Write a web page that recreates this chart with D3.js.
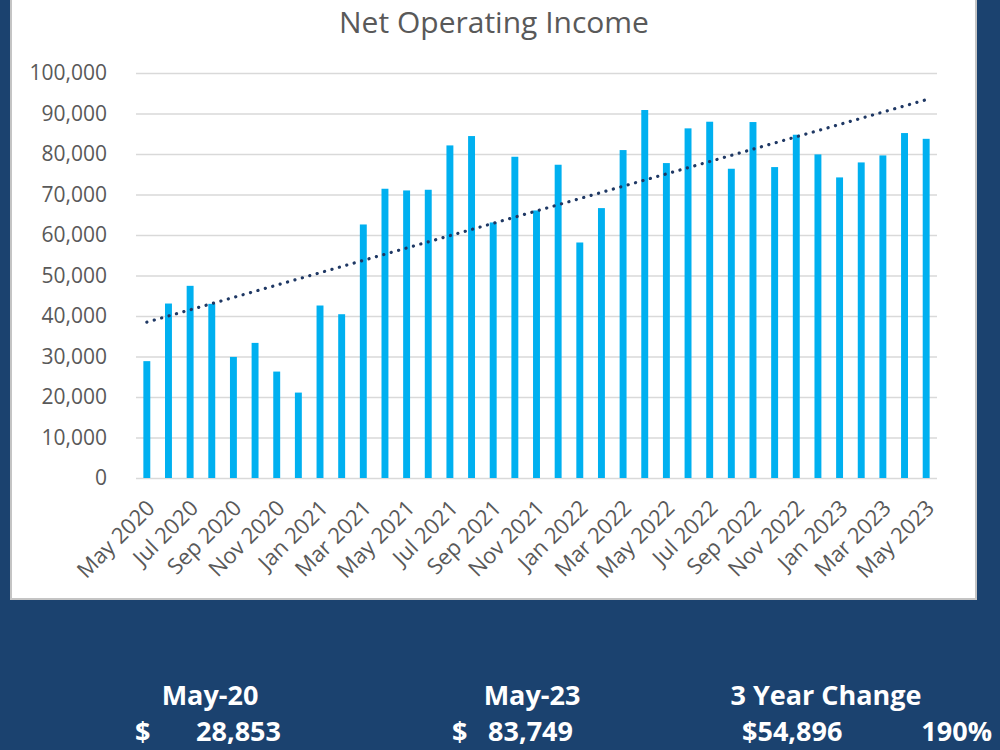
<!DOCTYPE html>
<html>
<head>
<meta charset="utf-8">
<script src="https://cdn.jsdelivr.net/npm/d3@7"></script>
<style>
body { margin: 0; background: #1b426f; }
text { font-family: "Open Sans", sans-serif; }
</style>
</head>
<body>
<div id="chart-area"></div>
<script>

// Data
var months = ["May 2020","Jun 2020","Jul 2020","Aug 2020","Sep 2020","Oct 2020","Nov 2020","Dec 2020",
	"Jan 2021","Feb 2021","Mar 2021","Apr 2021","May 2021","Jun 2021","Jul 2021","Aug 2021","Sep 2021","Oct 2021","Nov 2021","Dec 2021",
	"Jan 2022","Feb 2022","Mar 2022","Apr 2022","May 2022","Jun 2022","Jul 2022","Aug 2022","Sep 2022","Oct 2022","Nov 2022","Dec 2022",
	"Jan 2023","Feb 2023","Mar 2023","Apr 2023","May 2023"];

var income = [28853, 43080, 47450, 43000, 29900, 33360, 26280, 21090,
	42590, 40440, 62600, 71420, 71000, 71170, 82120, 84430, 63100, 79320, 66060, 77350,
	58150, 66640, 80970, 90860, 77760, 86330, 87970, 76360, 87890, 76770, 84760, 79900,
	74220, 77920, 79650, 85170, 83749];

var yTicks = [0, 10000, 20000, 30000, 40000, 50000, 60000, 70000, 80000, 90000, 100000];
var tickMonths = months.filter(function(d, i) { return i % 2 === 0; });

var summaryHeads = ["May-20", "May-23", "3 Year Change"];
var summaryValues = [28853, 83749, 54896];
var changePct = "190%";

// SVG drawing area
var margin = {top: 73, right: 63, bottom: 272, left: 136};
var width = 1000 - margin.left - margin.right;
var height = 750 - margin.top - margin.bottom;

var svg = d3.select("#chart-area").append("svg")
	.attr("width", 1000)
	.attr("height", 750);

svg.append("rect")
	.attr("width", 1000).attr("height", 750)
	.attr("fill", "#1b426f");

// white chart panel (border on left, bottom, right only)
svg.append("rect")
	.attr("x", 11).attr("y", 0)
	.attr("width", 965).attr("height", 599)
	.attr("fill", "#fff");

svg.append("path")
	.attr("d", "M11,0V599H976V0")
	.attr("fill", "none")
	.attr("stroke", "#c4c4c4")
	.attr("stroke-width", 2);

svg.append("text")
	.attr("x", 494).attr("y", 33)
	.attr("text-anchor", "middle")
	.attr("fill", "#595959")
	.attr("font-size", 30)
	.text("Net Operating Income");

var g = svg.append("g")
	.attr("transform", "translate(" + margin.left + "," + margin.top + ")");

// Scales
var x = d3.scaleBand()
	.domain(months)
	.range([0, width])
	.paddingInner(0.68)
	.paddingOuter(0.34);

var y = d3.scaleLinear()
	.domain([0, 100000])
	.range([height, 0]);

// Y axis with gridlines
var yAxis = d3.axisLeft(y)
	.tickValues(yTicks)
	.tickSize(-width)
	.tickPadding(29)
	.tickFormat(d3.format(","));

var yAxisGroup = g.append("g").attr("class", "y axis").call(yAxis);
yAxisGroup.select(".domain").remove();
yAxisGroup.selectAll("line").attr("stroke", "#d9d9d9").attr("stroke-width", 1.5);
yAxisGroup.selectAll("text").attr("fill", "#595959").attr("font-size", 21);

// X axis
var xAxis = d3.axisBottom(x)
	.tickValues(tickMonths)
	.tickSize(0);

var xAxisGroup = g.append("g")
	.attr("class", "x axis")
	.attr("transform", "translate(0," + height + ")")
	.call(xAxis);
xAxisGroup.select(".domain").remove();
xAxisGroup.selectAll("text")
	.attr("fill", "#595959")
	.attr("font-size", 22)
	.attr("text-anchor", "end")
	.attr("x", 0).attr("y", 0).attr("dy", "0.35em")
	.attr("transform", "translate(4,26) rotate(-45)");

// Bars
g.selectAll(".bar")
	.data(income)
	.enter().append("rect")
	.attr("class", "bar")
	.attr("x", function(d, i) { return x(months[i]); })
	.attr("width", x.bandwidth())
	.attr("y", function(d) { return y(d); })
	.attr("height", function(d) { return height - y(d); })
	.attr("fill", "#00b0f0");

// Linear trendline (least squares)
var n = income.length;
var meanX = d3.mean(income, function(d, i) { return i; });
var meanY = d3.mean(income);
var sxy = d3.sum(income, function(d, i) { return (i - meanX) * (d - meanY); });
var sxx = d3.sum(income, function(d, i) { return (i - meanX) * (i - meanX); });
var slope = sxy / sxx;
var intercept = meanY - slope * meanX;

var trend = [0, n - 1].map(function(i) { return {m: months[i], v: intercept + slope * i}; });

var line = d3.line()
	.x(function(d) { return x(d.m) + x.bandwidth() / 2; })
	.y(function(d) { return y(d.v); });

g.append("path")
	.datum(trend)
	.attr("d", line)
	.attr("fill", "none")
	.attr("stroke", "#1f3864")
	.attr("stroke-width", 3.2)
	.attr("stroke-linecap", "round")
	.attr("stroke-dasharray", "0.1 7.6");

// Summary below the chart
var fmt = d3.format(",");
var headX = [210, 532, 826];

svg.selectAll(".head")
	.data(summaryHeads)
	.enter().append("text")
	.attr("class", "head")
	.attr("x", function(d, i) { return headX[i]; })
	.attr("y", 705)
	.attr("text-anchor", "middle")
	.attr("fill", "#fff")
	.attr("font-size", 27)
	.attr("font-weight", "bold")
	.text(function(d) { return d; });

var bottom = svg.append("g")
	.attr("fill", "#fff")
	.attr("font-size", 27)
	.attr("font-weight", "bold");

bottom.append("text").attr("x", 135).attr("y", 741).text("$");
bottom.append("text").attr("x", 281).attr("y", 741).attr("text-anchor", "end").text(fmt(summaryValues[0]));
bottom.append("text").attr("x", 452).attr("y", 741).text("$");
bottom.append("text").attr("x", 573).attr("y", 741).attr("text-anchor", "end").text(fmt(summaryValues[1]));
bottom.append("text").attr("x", 742).attr("y", 741).text("$" + fmt(summaryValues[2]));
bottom.append("text").attr("x", 992).attr("y", 741).attr("text-anchor", "end").text(changePct);

</script>
</body>
</html>
